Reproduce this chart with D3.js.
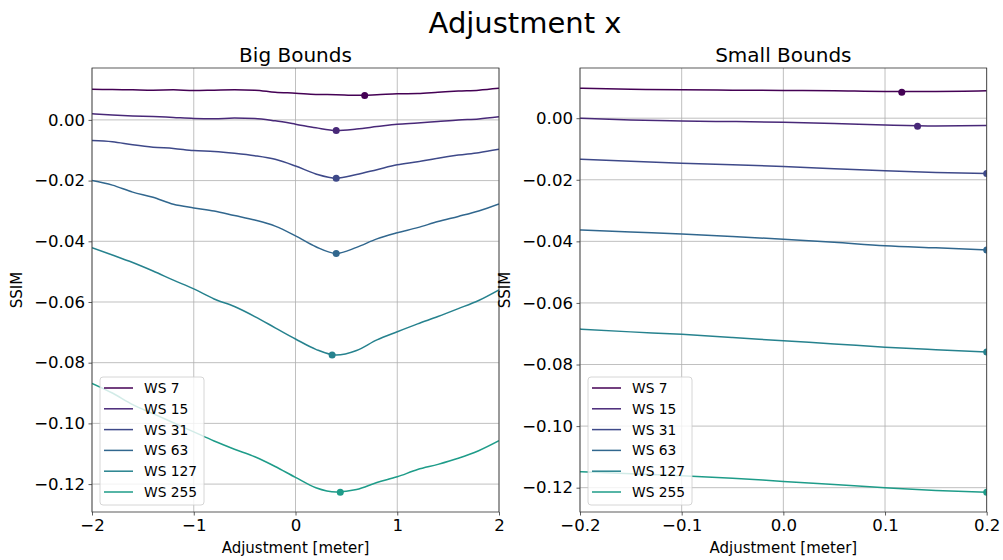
<!DOCTYPE html>
<html>
<head>
<meta charset="utf-8">
<script src="https://cdn.jsdelivr.net/npm/d3@7"></script>
<style>
  body { margin: 0; background: #fff; }
  text { font-family: "DejaVu Sans", sans-serif; fill: #000; }
</style>
</head>
<body>
<svg id="chart" width="1003" height="560"></svg>
<script>
var seriesNames = ['WS 7', 'WS 15', 'WS 31', 'WS 63', 'WS 127', 'WS 255'];

// Big Bounds panel
var bigX = [-2, -1.8, -1.6, -1.4, -1.2, -1, -0.8, -0.6, -0.4, -0.2, 0, 0.2, 0.4, 0.6, 0.8, 1, 1.2, 1.4, 1.6, 1.8, 2];
var bigWS7   = [0.0101, 0.0100, 0.0099, 0.0098, 0.0099, 0.0097, 0.0098, 0.0099, 0.0098, 0.0091, 0.0088, 0.0084, 0.0083, 0.0081, 0.0083, 0.0086, 0.0087, 0.0091, 0.0095, 0.0098, 0.0104];
var bigWS15  = [0.0020, 0.0016, 0.0013, 0.0011, 0.0008, 0.0005, 0.0004, 0.0006, 0.0005, -0.0003, -0.0014, -0.0026, -0.0035, -0.0030, -0.0022, -0.0014, -0.0010, -0.0005, 0.0000, 0.0003, 0.0010];
var bigWS31  = [-0.0068, -0.0072, -0.0082, -0.0090, -0.0094, -0.0101, -0.0104, -0.0110, -0.0118, -0.0130, -0.0152, -0.0178, -0.0192, -0.0180, -0.0164, -0.0148, -0.0138, -0.0126, -0.0116, -0.0108, -0.0097];
var bigWS63  = [-0.0200, -0.0215, -0.0238, -0.0255, -0.0278, -0.0290, -0.0300, -0.0315, -0.0330, -0.0350, -0.0382, -0.0418, -0.0440, -0.0420, -0.0392, -0.0372, -0.0355, -0.0335, -0.0318, -0.0300, -0.0277];
var bigWS127 = [-0.0421, -0.0445, -0.0470, -0.0498, -0.0528, -0.0557, -0.0590, -0.0615, -0.0648, -0.0685, -0.0722, -0.0756, -0.0775, -0.0760, -0.0725, -0.0698, -0.0672, -0.0648, -0.0622, -0.0595, -0.0560];
var bigWS255 = [-0.0868, -0.0900, -0.0938, -0.0968, -0.0998, -0.1028, -0.1058, -0.1085, -0.1110, -0.1142, -0.1178, -0.1212, -0.1226, -0.1218, -0.1195, -0.1176, -0.1152, -0.1135, -0.1115, -0.1090, -0.1057];
var bigMinX = [0.68, 0.40, 0.40, 0.40, 0.36, 0.44];
var bigMinY = [0.0080, -0.0035, -0.0192, -0.0440, -0.0775, -0.1227];

// Small Bounds panel
var smallX = [-0.2, -0.15, -0.1, -0.05, 0, 0.05, 0.1, 0.15, 0.2];
var smallWS7   = [0.0097, 0.0094, 0.0092, 0.0091, 0.0090, 0.0089, 0.0087, 0.0087, 0.0089];
var smallWS15  = [0.0000, -0.0006, -0.0009, -0.0011, -0.0013, -0.0017, -0.0022, -0.0025, -0.0024];
var smallWS31  = [-0.0133, -0.0140, -0.0146, -0.0151, -0.0157, -0.0164, -0.0171, -0.0176, -0.0180];
var smallWS63  = [-0.0363, -0.0370, -0.0376, -0.0384, -0.0393, -0.0403, -0.0414, -0.0421, -0.0428];
var smallWS127 = [-0.0685, -0.0694, -0.0702, -0.0712, -0.0723, -0.0733, -0.0744, -0.0752, -0.0759];
var smallWS255 = [-0.1148, -0.1155, -0.1161, -0.1169, -0.1180, -0.1190, -0.1200, -0.1209, -0.1215];
var smallMinX = [0.1165, 0.132, 0.2, 0.2, 0.2, 0.2];
var smallMinY = [0.0084, -0.0026, -0.0180, -0.0428, -0.0759, -0.1215];

var bigTicksX = [-2, -1, 0, 1, 2];
var smallTicksX = [-0.2, -0.1, 0.0, 0.1, 0.2];
var ticksY = [0, -0.02, -0.04, -0.06, -0.08, -0.10, -0.12];

var colors = seriesNames.map(function(d, i) { return d3.interpolateViridis(i * 0.11); });

var svg = d3.select('#chart');

svg.append('text')
  .attr('x', 525).attr('y', 33)
  .attr('text-anchor', 'middle')
  .style('font-size', '29px')
  .text('Adjustment x');

function fmtX(step) {
  return function(d) {
    var s = step < 1 ? d3.format('.1f')(d) : d3.format('d')(d);
    return s.replace('-', '\u2212');
  };
}
function fmtY(d) { return d3.format('.2f')(d).replace('-', '\u2212'); }

function drawPanel(cfg) {
  var x = d3.scaleLinear().domain(cfg.xDomain).range([cfg.left, cfg.right]);
  var y = d3.scaleLinear().domain(cfg.yDomain).range([cfg.bottom, cfg.top]);
  var g = svg.append('g');

  var clipId = 'clip' + cfg.id;
  g.append('clipPath').attr('id', clipId)
    .append('rect')
    .attr('x', cfg.left).attr('y', cfg.top)
    .attr('width', cfg.right - cfg.left).attr('height', cfg.bottom - cfg.top);

  // grid
  g.selectAll('.gx').data(cfg.ticksX).enter().append('line')
    .attr('x1', function(d) { return x(d); }).attr('x2', function(d) { return x(d); })
    .attr('y1', cfg.top).attr('y2', cfg.bottom)
    .attr('stroke', '#b0b0b0').attr('stroke-width', 0.8);
  g.selectAll('.gy').data(ticksY).enter().append('line')
    .attr('y1', function(d) { return y(d); }).attr('y2', function(d) { return y(d); })
    .attr('x1', cfg.left).attr('x2', cfg.right)
    .attr('stroke', '#b0b0b0').attr('stroke-width', 0.8);

  // axes
  var ax = g.append('g').attr('transform', 'translate(0,' + cfg.bottom + ')')
    .call(d3.axisBottom(x).tickValues(cfg.ticksX).tickFormat(fmtX(cfg.step)).tickSize(3.5).tickPadding(3.5));
  var ay = g.append('g').attr('transform', 'translate(' + cfg.left + ',0)')
    .call(d3.axisLeft(y).tickValues(ticksY).tickFormat(fmtY).tickSize(3.5).tickPadding(3.5));
  [ax, ay].forEach(function(a) {
    a.attr('font-size', null).attr('font-family', null);
    a.select('.domain').remove();
    a.selectAll('text').style('font-size', '16.6px').style('font-family', '"DejaVu Sans"').attr('fill', '#000');
    a.selectAll('line').attr('stroke', '#333').attr('stroke-width', 0.8);
  });

  // series
  var line = d3.line()
    .curve(d3.curveMonotoneX)
    .x(function(d) { return x(d[0]); })
    .y(function(d) { return y(d[1]); });
  var plot = g.append('g').attr('clip-path', 'url(#' + clipId + ')');
  cfg.series.forEach(function(vals, i) {
    var pts = cfg.xs.map(function(xv, j) { return [xv, vals[j]]; });
    plot.append('path').datum(pts)
      .attr('d', line)
      .attr('fill', 'none')
      .attr('stroke', colors[i])
      .attr('stroke-width', 1.5);
  });
  plot.selectAll('circle.min').data(cfg.minX).enter().append('circle')
    .attr('cx', function(d) { return x(d); })
    .attr('cy', function(d, i) { return y(cfg.minY[i]); })
    .attr('r', 3.5)
    .attr('fill', function(d, i) { return colors[i]; });

  // frame
  g.append('rect')
    .attr('x', cfg.left).attr('y', cfg.top)
    .attr('width', cfg.right - cfg.left).attr('height', cfg.bottom - cfg.top)
    .attr('fill', 'none').attr('stroke', '#333').attr('stroke-width', 0.8);

  // titles
  g.append('text')
    .attr('x', (cfg.left + cfg.right) / 2).attr('y', 62)
    .attr('text-anchor', 'middle')
    .style('font-size', '20px')
    .text(cfg.title);
  g.append('text')
    .attr('x', (cfg.left + cfg.right) / 2).attr('y', 553)
    .attr('text-anchor', 'middle')
    .style('font-size', '15px')
    .text('Adjustment [meter]');
  g.append('text')
    .attr('transform', 'translate(' + (cfg.left - 70) + ',' + ((cfg.top + cfg.bottom) / 2) + ') rotate(-90)')
    .attr('text-anchor', 'middle')
    .style('font-size', '15px')
    .text('SSIM');

  // legend
  var lx = cfg.left + 8, ly = 377;
  var lg = g.append('g');
  lg.append('rect')
    .attr('x', lx).attr('y', ly)
    .attr('width', 104).attr('height', 128)
    .attr('rx', 3)
    .attr('fill', '#fff').attr('fill-opacity', 0.8)
    .attr('stroke', '#ccc').attr('stroke-width', 0.8);
  seriesNames.forEach(function(name, i) {
    var cy = ly + 11 + i * 20.8;
    lg.append('line')
      .attr('x1', lx + 4).attr('x2', lx + 33)
      .attr('y1', cy).attr('y2', cy)
      .attr('stroke', colors[i]).attr('stroke-width', 1.5);
    lg.append('text')
      .attr('x', lx + 44).attr('y', cy + 5)
      .style('font-size', '13.8px')
      .text(name);
  });
}

drawPanel({
  id: 'big', title: 'Big Bounds',
  left: 92, right: 499, top: 68, bottom: 512,
  xDomain: [-2, 2], yDomain: [-0.1292, 0.0171],
  ticksX: bigTicksX, step: 1,
  xs: bigX,
  series: [bigWS7, bigWS15, bigWS31, bigWS63, bigWS127, bigWS255],
  minX: bigMinX, minY: bigMinY
});

drawPanel({
  id: 'small', title: 'Small Bounds',
  left: 580, right: 986.7, top: 68, bottom: 512,
  xDomain: [-0.2, 0.2], yDomain: [-0.1279, 0.0163],
  ticksX: smallTicksX, step: 0.1,
  xs: smallX,
  series: [smallWS7, smallWS15, smallWS31, smallWS63, smallWS127, smallWS255],
  minX: smallMinX, minY: smallMinY
});
</script>
</body>
</html>
